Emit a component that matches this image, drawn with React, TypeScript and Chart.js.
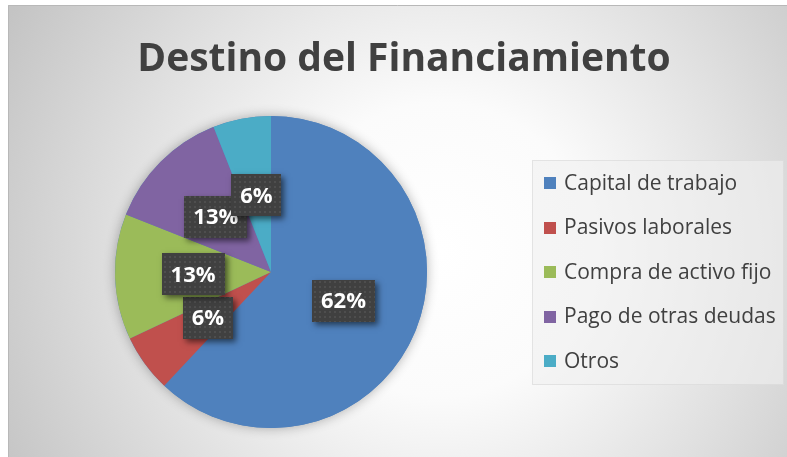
import React, { useEffect, useRef } from "react";
import { Chart, registerables } from "chart.js";

Chart.register(...registerables);

const chartTitle = "Destino del Financiamiento";
const categories = [
  "Capital de trabajo",
  "Pasivos laborales",
  "Compra de activo fijo",
  "Pago de otras deudas",
  "Otros",
];
const shares = [62, 6, 13, 13, 6];
const sliceColors = ["#4F81BD", "#C0504D", "#9BBB59", "#8064A2", "#4BACC6"];

const FONT = '"Open Sans", "Noto Sans", sans-serif';

const backgroundPlugin = {
  id: "bgPlugin",
  beforeDraw(chart: any) {
    const { ctx, width, height } = chart;
    ctx.save();
    const cx = 432;
    const cy = 245;
    const g = ctx.createRadialGradient(cx, cy, 0, cx, cy, 490);
    g.addColorStop(0, "#ffffff");
    g.addColorStop(0.3, "#fbfbfb");
    g.addColorStop(0.65, "#e0e0e0");
    g.addColorStop(1, "#c4c4c4");
    ctx.fillStyle = g;
    ctx.fillRect(0, 0, width, height);
    ctx.strokeStyle = "#b8b8b8";
    ctx.lineWidth = 1;
    ctx.beginPath();
    ctx.moveTo(0.5, height);
    ctx.lineTo(0.5, 0.5);
    ctx.lineTo(width, 0.5);
    ctx.stroke();

    // title
    ctx.fillStyle = "#404040";
    ctx.font = `bold 39px ${FONT}`;
    ctx.textAlign = "center";
    ctx.textBaseline = "alphabetic";
    ctx.fillText(chartTitle, 396, 66);
    ctx.restore();
  },
  beforeDatasetsDraw(chart: any) {
    const meta = chart.getDatasetMeta(0);
    const arc = meta.data[0];
    if (!arc) return;
    const { ctx } = chart;
    ctx.save();
    ctx.shadowColor = "rgba(0,0,0,0.3)";
    ctx.shadowBlur = 12;
    ctx.fillStyle = sliceColors[0];
    ctx.beginPath();
    ctx.arc(arc.x, arc.y, arc.outerRadius, 0, Math.PI * 2);
    ctx.fill();
    ctx.restore();
  },
  afterDatasetsDraw(chart: any) {
    const { ctx } = chart;
    const meta = chart.getDatasetMeta(0);
    const values = chart.data.datasets[0].data as number[];
    // dotted pattern
    const pc = document.createElement("canvas");
    pc.width = 5;
    pc.height = 5;
    const p = pc.getContext("2d")!;
    p.fillStyle = "#404040";
    p.fillRect(0, 0, 5, 5);
    p.fillStyle = "#4e4e4e";
    p.fillRect(1, 1, 2, 2);
    const pattern = ctx.createPattern(pc, "repeat");

    meta.data.forEach((el: any, i: number) => {
      const pos = el.tooltipPosition();
      const text = `${values[i]}%`;
      ctx.save();
      ctx.font = `bold 22px ${FONT}`;
      const tw = ctx.measureText(text).width;
      const w = Math.round(tw + 18);
      const h = 42;
      const x = Math.round(pos.x - w / 2);
      const y = Math.round(pos.y - h / 2);
      ctx.shadowColor = "rgba(0,0,0,0.55)";
      ctx.shadowBlur = 6;
      ctx.shadowOffsetX = 3;
      ctx.shadowOffsetY = 3;
      ctx.fillStyle = "#404040";
      ctx.fillRect(x, y, w, h);
      ctx.shadowColor = "transparent";
      ctx.fillStyle = pattern || "#404040";
      ctx.fillRect(x, y, w, h);
      ctx.fillStyle = "#ffffff";
      ctx.textAlign = "center";
      ctx.textBaseline = "middle";
      ctx.fillText(text, pos.x, pos.y + 1);
      ctx.restore();
    });
  },
  afterDraw(chart: any) {
    const { ctx } = chart;
    ctx.save();
    // legend box
    ctx.fillStyle = "rgba(240,240,240,0.6)";
    ctx.fillRect(524, 155, 252, 225);
    ctx.strokeStyle = "rgba(210,210,210,0.5)";
    ctx.lineWidth = 1;
    ctx.strokeRect(524.5, 155.5, 251, 224);
    ctx.font = `21px ${FONT}`;
    ctx.textAlign = "left";
    ctx.textBaseline = "middle";
    categories.forEach((label, i) => {
      const cy = 178 + i * 44.5;
      ctx.fillStyle = sliceColors[i];
      ctx.fillRect(536, Math.round(cy - 6), 12, 12);
      ctx.fillStyle = "#404040";
      ctx.fillText(label, 556, cy + 1);
    });
    ctx.restore();
  },
};

export default function App() {
  const canvasRef = useRef<HTMLCanvasElement | null>(null);

  useEffect(() => {
    if (!canvasRef.current) return;
    const chart = new Chart(canvasRef.current, {
      type: "pie",
      data: {
        labels: categories,
        datasets: [
          {
            data: shares,
            backgroundColor: sliceColors,
            borderWidth: 0,
            hoverOffset: 0,
          },
        ],
      },
      options: {
        responsive: false,
        devicePixelRatio: 1,
        animation: false,
        events: [],
        layout: { padding: { left: 107, right: 360, top: 111, bottom: 29 } },
        plugins: {
          legend: { display: false },
          title: { display: false },
          tooltip: { enabled: false },
        },
      },
      plugins: [backgroundPlugin],
    });
    if ((document as any).fonts && (document as any).fonts.ready) {
      (document as any).fonts.ready.then(() => chart.update());
    }
    return () => chart.destroy();
  }, []);

  return (
    <div style={{ position: "absolute", left: 8, top: 5, width: 779, height: 452 }}>
      <canvas ref={canvasRef} width={779} height={452} style={{ display: "block" }} />
    </div>
  );
}
